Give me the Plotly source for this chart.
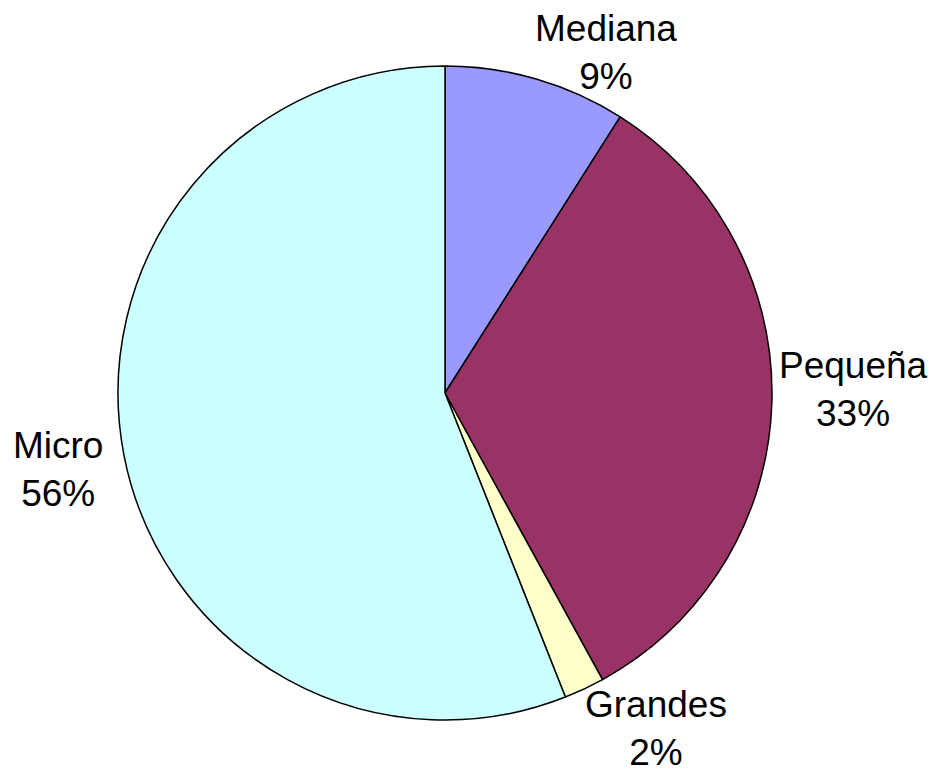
import plotly.graph_objects as go

labels = ["Mediana", "Pequeña", "Grandes", "Micro"]
values = [9, 33, 2, 56]
colors = ["#9999FF", "#993366", "#FFFFCC", "#CCFFFF"]

# label block centres (paper coords), positioned like the original chart
label_pos_x = [0.6394, 0.9033, 0.6923, 0.0534]
label_pos_y = [0.9426, 0.5071, 0.0704, 0.4039]

total = sum(values)
fig = go.Figure(go.Pie(
    labels=labels,
    values=values,
    sort=False,
    direction="clockwise",
    rotation=0,
    marker=dict(colors=colors, line=dict(color="black", width=1.5)),
    textinfo="none",
    domain=dict(x=[110/936, 764/936], y=[63/775, 717/775]),
    showlegend=False,
    hoverinfo="label+percent",
))
for lab, val, px, py in zip(labels, values, label_pos_x, label_pos_y):
    fig.add_annotation(
        x=px, y=py, xref="paper", yref="paper",
        text=f"{lab}<br>{round(val / total * 100)}%",
        showarrow=False, xanchor="center", yanchor="middle",
        align="center",
        font=dict(family="Liberation Sans, Arial, sans-serif", size=37, color="black"),
    )
fig.update_layout(
    width=936, height=775,
    margin=dict(l=0, r=0, t=0, b=0, autoexpand=False),
    paper_bgcolor="white",
    plot_bgcolor="white",
)
fig.write_html("out.html")
